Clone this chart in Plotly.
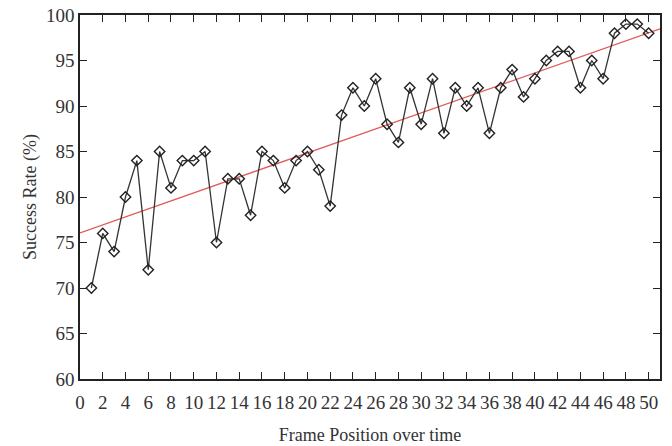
import numpy as np
import plotly.graph_objects as go

frames = list(range(1, 51))
success = [70, 76, 74, 80, 84, 72, 85, 81, 84, 84,
           85, 75, 82, 82, 78, 85, 84, 81, 84, 85,
           83, 79, 89, 92, 90, 93, 88, 86, 92, 88,
           93, 87, 92, 90, 92, 87, 92, 94, 91, 93,
           95, 96, 96, 92, 95, 93, 98, 99, 99, 98]
x_ticks = list(range(0, 51, 2))
y_ticks = list(range(60, 101, 5))

slope, intercept = np.polyfit(frames, success, 1)
trend_x = [0, 51]
trend_y = [intercept + slope * v for v in trend_x]

FONT = "Liberation Serif"

fig = go.Figure()
fig.add_trace(go.Scatter(x=trend_x, y=trend_y, mode="lines",
                         line=dict(color="#e05a5a", width=1.3),
                         showlegend=False, hoverinfo="skip"))
fig.add_trace(go.Scatter(x=frames, y=success, mode="lines+markers",
                         line=dict(color="#333333", width=1.3),
                         marker=dict(symbol="diamond-open", size=8,
                                     color="#222222", line=dict(width=1.4)),
                         showlegend=False))

axis_common = dict(showgrid=False, zeroline=False, showline=True, linecolor="#222",
                   linewidth=1.5, mirror="ticks", ticks="inside", ticklen=7,
                   tickwidth=1.3, tickcolor="#222", automargin=False,
                   ticklabeloverflow="allow",
                   tickfont=dict(family=FONT, size=19, color="#333"))

fig.update_xaxes(range=[0, 51], tickvals=x_ticks, ticklabelstandoff=5,
                 title=dict(text="Frame Position over time",
                            font=dict(family=FONT, size=18, color="#333"), standoff=17),
                 **axis_common)
fig.update_yaxes(range=[60, 100], tickvals=y_ticks,
                 title=dict(text="Success Rate (%)",
                            font=dict(family=FONT, size=18, color="#333"), standoff=5),
                 **axis_common)

fig.update_layout(width=672, height=446,
                  margin=dict(l=72, r=20, t=7, b=75, autoexpand=False),
                  plot_bgcolor="white", paper_bgcolor="white",
                  font=dict(family=FONT))

fig.write_html("out.html")
